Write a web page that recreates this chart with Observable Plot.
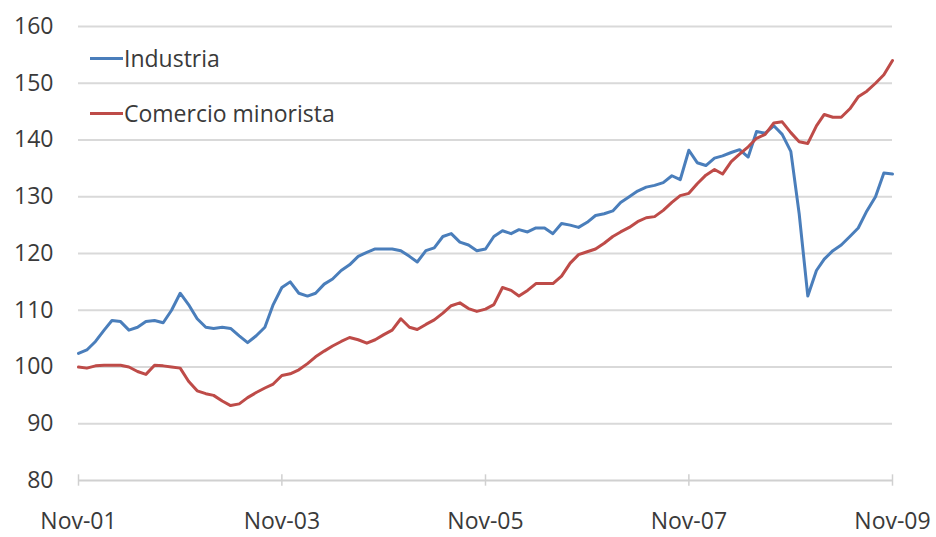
<!DOCTYPE html>
<html>
<head>
<meta charset="utf-8">
<script src="https://cdn.jsdelivr.net/npm/d3@7"></script>
<script src="https://cdn.jsdelivr.net/npm/@observablehq/plot@0.6"></script>
<style>
  html, body { margin: 0; padding: 0; background: #fff; }
  #wrap { position: relative; width: 936px; height: 537px; font-family: "Open Sans", sans-serif; }
  .leg { position: absolute; left: 90px; display: flex; align-items: center; font-size: 23px; color: #3a3a3a; height: 26px; }
  .leg span.sw { display: inline-block; width: 33px; height: 3px; margin-right: 1px; }
</style>
</head>
<body>
<div id="wrap">
  <div id="chart"></div>
  <div class="leg" id="leg1" style="top:45px"><span class="sw"></span><span class="lbl"></span></div>
  <div class="leg" id="leg2" style="top:100px"><span class="sw"></span><span class="lbl"></span></div>
</div>
<script>
const seriesNames = ["Industria", "Comercio minorista"];
const seriesColors = ["#4a7ebb", "#be4b48"];
const startYear = 2001, startMonth = 10; // Nov 2001, monthly
const industria = [
  102.4, 103.0, 104.5, 106.5, 108.2, 108.0, 106.5, 107.0, 108.0, 108.2, 107.8, 110.0,
  113.0, 111.0, 108.5, 107.0, 106.8, 107.0, 106.8, 105.5, 104.3, 105.5, 107.0, 111.0,
  114.0, 115.0, 113.0, 112.5, 113.0, 114.6, 115.5, 117.0, 118.0, 119.5, 120.2, 120.8,
  120.8, 120.8, 120.5, 119.5, 118.5, 120.5, 121.0, 123.0, 123.5, 122.0, 121.5, 120.5,
  120.8, 123.0, 124.0, 123.5, 124.2, 123.8, 124.5, 124.5, 123.5, 125.3, 125.0, 124.6,
  125.5, 126.7, 127.0, 127.5, 129.0, 130.0, 131.0, 131.7, 132.0, 132.5, 133.7, 133.0,
  138.2, 136.0, 135.5, 136.8, 137.2, 137.8, 138.3, 137.0, 141.5, 141.2, 142.5, 141.0,
  138.0, 127.0, 112.5, 117.0, 119.0, 120.5, 121.5, 123.0, 124.5, 127.5, 130.0, 134.2,
  134.0
];
const comercio = [
  100.0, 99.8, 100.2, 100.3, 100.3, 100.3, 100.0, 99.2, 98.7, 100.3, 100.2, 100.0,
  99.8, 97.5, 95.8, 95.3, 95.0, 94.0, 93.2, 93.5, 94.6, 95.5, 96.3, 97.0,
  98.5, 98.8, 99.5, 100.6, 101.8, 102.8, 103.7, 104.5, 105.2, 104.8, 104.2, 104.8,
  105.7, 106.5, 108.5, 107.0, 106.6, 107.5, 108.3, 109.5, 110.8, 111.3, 110.3, 109.8,
  110.2, 111.0, 114.0, 113.5, 112.5, 113.5, 114.7, 114.7, 114.7, 116.0, 118.3, 119.8,
  120.3, 120.8, 121.8, 123.0, 123.8, 124.6, 125.6, 126.3, 126.5, 127.6, 129.0, 130.2,
  130.6, 132.3, 133.8, 134.8, 134.0, 136.2, 137.5, 138.8, 140.3, 141.0, 143.0, 143.2,
  141.3, 139.7, 139.4, 142.5, 144.5, 144.0, 144.0, 145.5, 147.6, 148.6, 150.0, 151.5,
  154.0
];
const xTickLabels = ["Nov-01", "Nov-03", "Nov-05", "Nov-07", "Nov-09"];
const yTicks = [80, 90, 100, 110, 120, 130, 140, 150, 160];

const monthDate = i => new Date(Date.UTC(startYear, startMonth + i, 1));
const data = [];
industria.forEach((v, i) => data.push({date: monthDate(i), value: v, series: seriesNames[0]}));
comercio.forEach((v, i) => data.push({date: monthDate(i), value: v, series: seriesNames[1]}));
const xTicks = xTickLabels.map(s => new Date(Date.UTC(2000 + +s.slice(4), 10, 1)));

const chart = Plot.plot({
  width: 936,
  height: 537,
  marginLeft: 78,
  marginRight: 44,
  marginTop: 26,
  marginBottom: 57,
  style: {fontFamily: "Open Sans, sans-serif", fontSize: "23px", color: "#3a3a3a", background: "#fff"},
  x: {type: "utc", domain: [monthDate(0), monthDate(industria.length - 1)], ticks: xTicks,
      tickFormat: (d, i) => xTickLabels[i], tickSize: 0, tickPadding: 32, label: null},
  y: {domain: [80, 160], ticks: yTicks, tickSize: 0, tickPadding: 25, label: null},
  color: {domain: seriesNames, range: seriesColors},
  marks: [
    Plot.ruleY(yTicks.slice(1), {stroke: "#d9d9d9", strokeWidth: 2}),
    Plot.ruleY([80], {stroke: "#d0d0d0", strokeWidth: 2}),
    Plot.ruleX(xTicks, {y1: 79, y2: 81, stroke: "#d0d0d0", strokeWidth: 1.5}),
    Plot.lineY(data, {x: "date", y: "value", z: "series", stroke: "series", strokeWidth: 3, strokeLinejoin: "round"})
  ]
});
document.getElementById("chart").appendChild(chart);

["leg1", "leg2"].forEach((id, k) => {
  const el = document.getElementById(id);
  el.querySelector(".sw").style.background = seriesColors[k];
  el.querySelector(".lbl").textContent = seriesNames[k];
});
</script>
</body>
</html>
